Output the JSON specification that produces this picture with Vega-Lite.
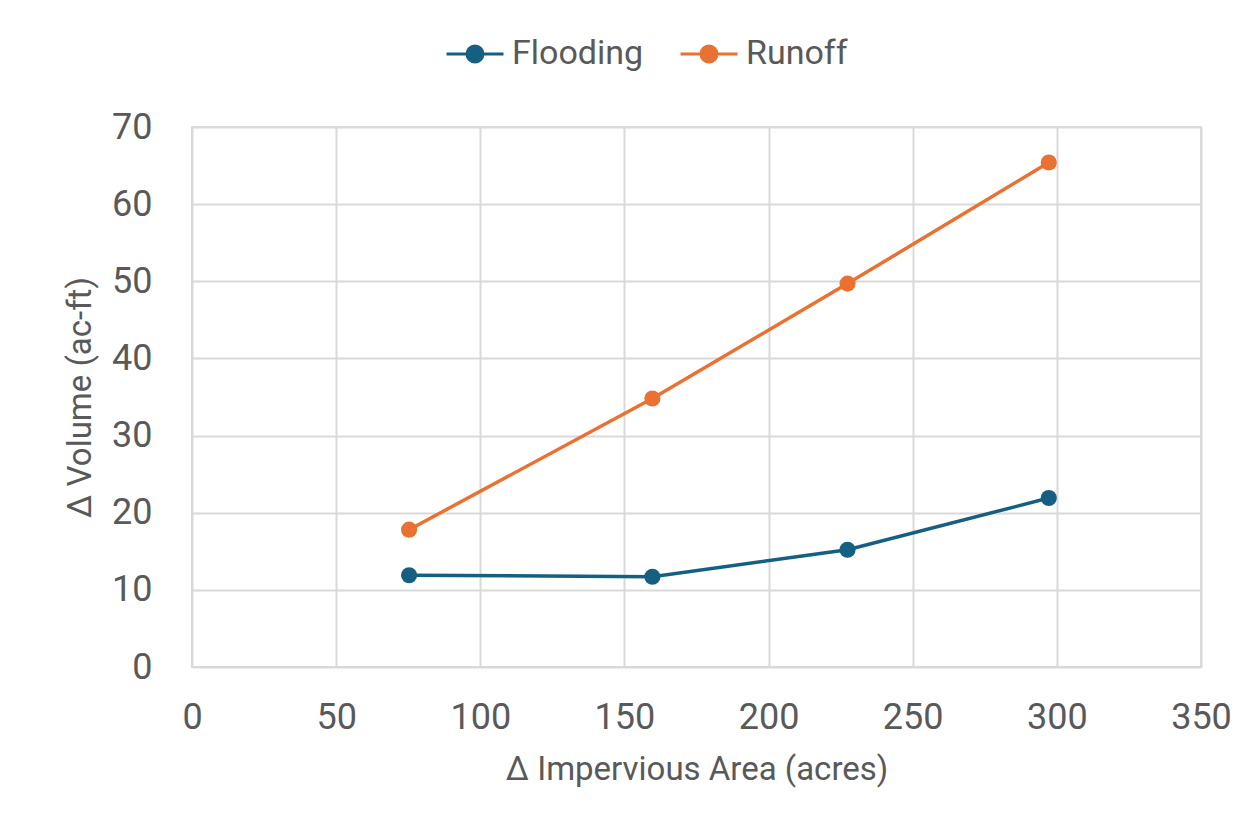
{
  "$schema": "https://vega.github.io/schema/vega-lite/v6.json",
  "autosize": {"type": "none"},
  "padding": {"left": 192, "top": 127, "right": 57, "bottom": 165},
  "width": 1009,
  "height": 540,
  "background": "white",
  "data": {
    "values": [
      {"area": 75.3, "volume": 11.9, "series": "Flooding"},
      {"area": 159.7, "volume": 11.7, "series": "Flooding"},
      {"area": 227.4, "volume": 15.2, "series": "Flooding"},
      {"area": 297.2, "volume": 21.9, "series": "Flooding"},
      {"area": 75.3, "volume": 17.8, "series": "Runoff"},
      {"area": 159.7, "volume": 34.8, "series": "Runoff"},
      {"area": 227.4, "volume": 49.7, "series": "Runoff"},
      {"area": 297.2, "volume": 65.4, "series": "Runoff"}
    ]
  },
  "encoding": {
    "x": {
      "field": "area",
      "type": "quantitative",
      "title": "Δ Impervious Area (acres)",
      "scale": {"domain": [0, 350], "nice": false},
      "axis": {"values": [0, 50, 100, 150, 200, 250, 300, 350], "labelPadding": 33, "titlePadding": 18}
    },
    "y": {
      "field": "volume",
      "type": "quantitative",
      "title": "Δ  Volume (ac-ft)",
      "scale": {"domain": [0, 70], "nice": false},
      "axis": {"values": [0, 10, 20, 30, 40, 50, 60, 70], "labelPadding": 40, "titlePadding": 14}
    },
    "color": {
      "field": "series",
      "type": "nominal",
      "title": null,
      "scale": {"domain": ["Flooding", "Runoff"], "range": ["#156082", "#E97132"]},
      "legend": {
        "orient": "none",
        "direction": "horizontal",
        "legendX": 253,
        "legendY": -103,
        "symbolType": "M-1,0L1,0M-0.28,0A0.28,0.28,0,1,1,0.28,0A0.28,0.28,0,1,1,-0.28,0Z",
        "symbolSize": 3249,
        "symbolStrokeWidth": 3,
        "labelOffset": 7,
        "columnPadding": 30,
        "labelFontSize": 34,
        "labelFont": "Roboto",
        "labelColor": "#595959",
        "encode": {
          "symbols": {
            "update": {
              "fill": {"field": "value", "scale": "color"},
              "stroke": {"field": "value", "scale": "color"}
            }
          }
        }
      }
    }
  },
  "layer": [
    {"mark": {"type": "line", "strokeWidth": 3.5}},
    {"mark": {"type": "circle", "size": 260, "opacity": 1}}
  ],
  "config": {
    "view": {"stroke": "#d9d9d9", "strokeWidth": 2},
    "axis": {
      "grid": true,
      "gridColor": "#d9d9d9",
      "gridWidth": 2,
      "domain": false,
      "ticks": false,
      "labelFlush": false,
      "labelFont": "Roboto",
      "labelFontSize": 36,
      "labelColor": "#595959",
      "titleFont": "Roboto",
      "titleFontSize": 33,
      "titleFontWeight": "normal",
      "titleColor": "#595959"
    }
  }
}
